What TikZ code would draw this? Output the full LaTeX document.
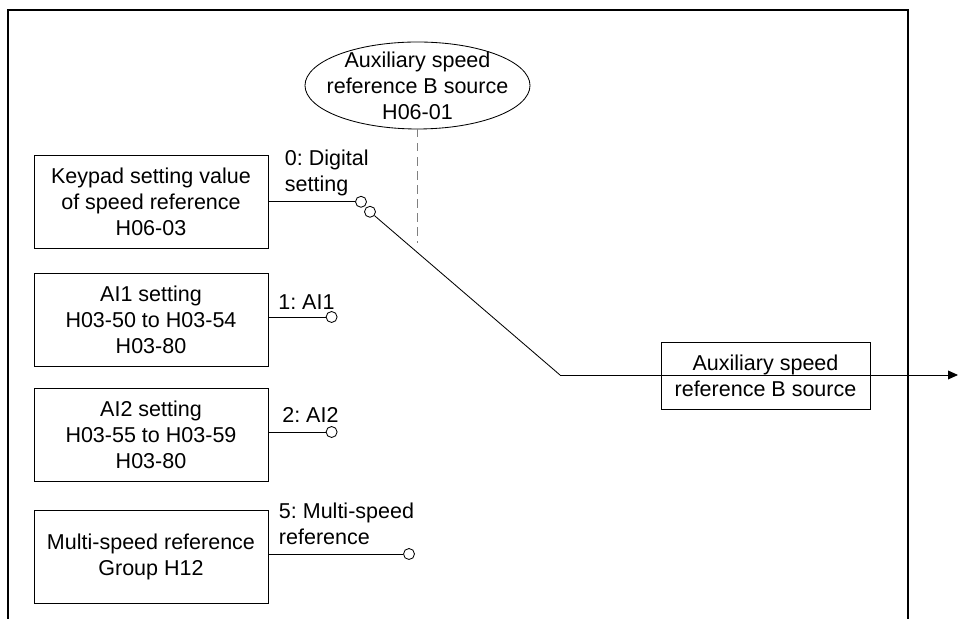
\documentclass[tikz,border=0pt]{standalone}
\usepackage{fontspec}
\setmainfont{Liberation Sans}
\usepackage{tikz}
\usetikzlibrary{arrows.meta, positioning}
\frenchspacing

\tikzset{
    txt/.style={font=\fontsize{15.3}{18.5}\selectfont},
    parbox/.style={txt, draw, line width=0.6pt, align=center, minimum width=5.85cm, minimum height=2.325cm},
    contact/.style={draw, circle, line width=0.6pt, inner sep=0pt, minimum size=0.275cm, fill=white},
    wire/.style={line width=0.6pt},
}

\begin{document}
\begin{tikzpicture}
    \useasboundingbox (0,0) rectangle (23.975,15.475);

    % outer frame, open at the bottom
    \draw [line width=1.4pt] (0.2,0) -- (0.2,15.225) -- (22.69,15.225) -- (22.69,0);

    % parameter boxes
    \node[parbox] (keypad) at (3.775,10.4375) {Keypad setting value\\of speed reference\\H06-03};
    \node[parbox] (ai1) at (3.775,7.475) {AI1 setting\\H03-50 to H03-54\\H03-80};
    \node[parbox] (ai2) at (3.775,4.6) {AI2 setting\\H03-55 to H03-59\\H03-80};
    \node[parbox] (multi) at (3.775,1.5625) {Multi-speed reference\\Group H12};

    % selector parameter
    \node[txt, align=center] (src) at (10.4375,13.3375) {Auxiliary speed\\reference B source\\H06-01};
    \draw [line width=0.6pt] (src.center) ellipse (2.8125 and 1.0875);
    \coordinate (srcbot) at (10.4375,12.25);

    \node[txt, draw, line width=0.6pt, align=center, minimum width=5.225cm, minimum height=1.675cm] (out) at (19.1375,6.0875) {Auxiliary speed\\reference B source};

    % switch contacts
    \node[contact] (c0) at (9.025,10.43) {};
    \node[contact] (arm) at (9.25,10.18) {};
    \node[contact] (c1) at (8.29,7.55) {};
    \node[contact] (c2) at (8.29,4.675) {};
    \node[contact] (c5) at (10.225,1.625) {};

    \node[txt, anchor=west, align=left] (lab0) at (7.0,11.16) {0: Digital\\setting};
    \node[txt] (lab1) at (7.66,7.925) {1: AI1};
    \node[txt] (lab2) at (7.76,5.1) {2: AI2};
    \node[txt, anchor=west, align=left] (lab5) at (6.85,2.375) {5: Multi-speed\\reference};

    \coordinate (j) at (14.0,6.1);
    \coordinate (tip) at (23.95,6.1);
    \coordinate (dashend) at (10.4375,9.4);

    % wiring
    \draw [wire] (keypad.east |- c0) -- (c0);
    \draw [wire] (ai1.east |- c1) -- (c1);
    \draw [wire] (ai2.east |- c2) -- (c2);
    \draw [wire] (multi.east |- c5) -- (c5);
    \draw [wire] (arm) -- (j);
    \draw [wire, -{Triangle[length=0.25cm,width=0.22cm]}] (j) -- (tip);
    \draw [gray, line width=0.8pt, dash pattern=on 6pt off 4pt] (srcbot) -- (dashend);
\end{tikzpicture}
\end{document}
